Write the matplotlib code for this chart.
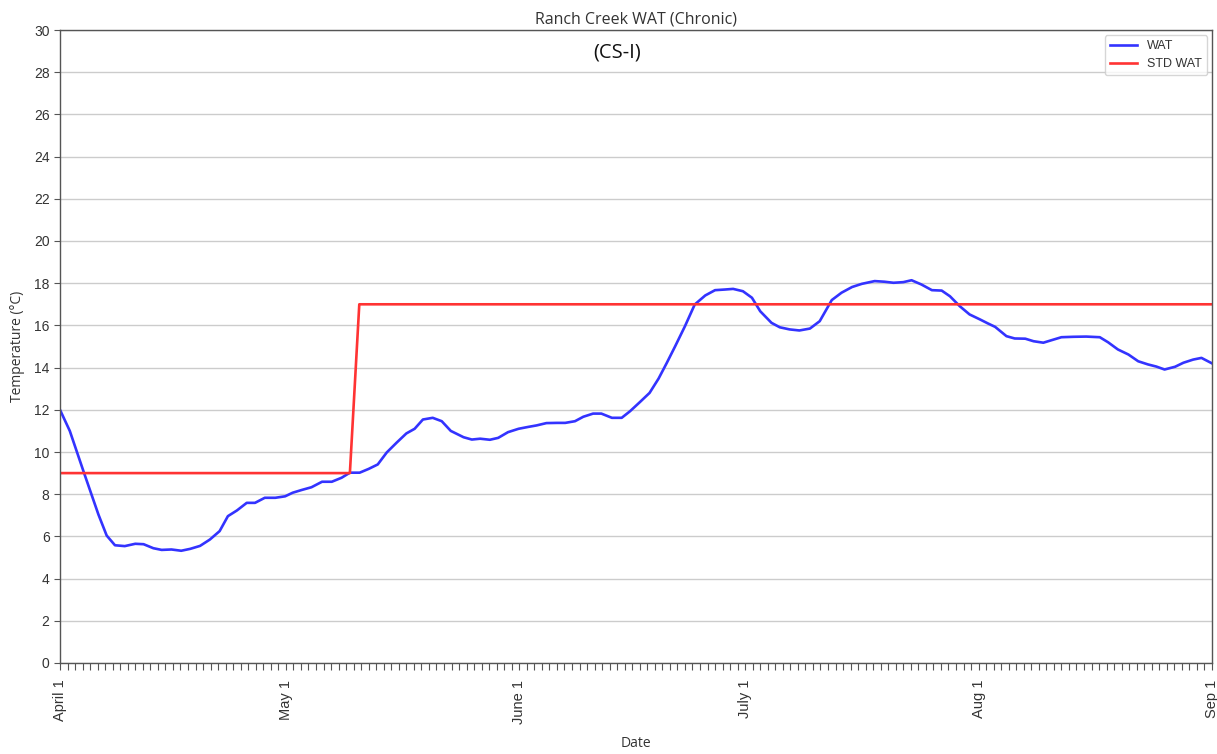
import matplotlib
matplotlib.use("Agg")
import matplotlib.pyplot as plt
import matplotlib.dates as mdates
import numpy as np
import datetime as dt

# ---- data ----
start_date = dt.datetime(2021, 4, 1)
end_date = dt.datetime(2021, 9, 1)

wat_day = [0, 1.3, 3.2, 5.1, 6.2, 7.3, 8.6, 10, 11.1, 12.4, 13.5, 14.8, 16.1, 17.3,
           18.6, 19.9, 21.2, 22.3, 23.5, 24.8, 25.9, 27.2, 28.6, 29.9, 30.9, 32.1,
           33.4, 34.8, 36.1, 37.4, 38.5, 39.8, 41.0, 42.2, 43.4, 44.7, 46.0, 47.1,
           48.2, 49.5, 50.7, 51.9, 53.6, 54.7, 55.8, 57.1, 58.2, 59.5, 60.9, 62.2,
           63.3, 64.6, 66.0, 67.1, 68.4, 69.5, 70.8, 71.9, 73.3, 74.6, 75.7, 77.0,
           78.3, 79.5, 80.6, 81.7, 83.0, 84.3, 85.7, 87.0, 88.3, 89.4, 90.7, 91.9,
           93.0, 94.5, 95.6, 96.9, 98.2, 99.6, 100.9, 102.5, 103.8, 105.2, 106.5,
           108.2, 109.5, 110.7, 112.0, 113.1, 114.4, 115.8, 117.1, 118.2, 119.5,
           120.8, 122.2, 123.2, 124.2, 125.7, 126.8, 128.2, 129.3, 130.6, 131.7,
           133.0, 134.6, 136.3, 138.1, 139.2, 140.5, 141.9, 143.2, 144.5, 145.6,
           146.7, 148.1, 149.2, 150.5, 151.6, 153.0]
wat_val = [12.0, 11.0, 9.0, 7.04, 6.04, 5.58, 5.54, 5.65, 5.63, 5.44, 5.36, 5.38, 5.32, 5.41,
           5.55, 5.85, 6.25, 6.96, 7.23, 7.59, 7.59, 7.83, 7.83, 7.9, 8.07, 8.2,
           8.33, 8.59, 8.59, 8.78, 9.02, 9.02, 9.2, 9.41, 9.98, 10.44, 10.88, 11.1,
           11.54, 11.62, 11.46, 11.0, 10.7, 10.59, 10.63, 10.58, 10.67, 10.94, 11.1, 11.19,
           11.26, 11.37, 11.38, 11.38, 11.46, 11.67, 11.82, 11.82, 11.62, 11.62, 11.93, 12.36,
           12.8, 13.48, 14.23, 15.01, 15.96, 16.99, 17.42, 17.67, 17.7, 17.73, 17.62, 17.31,
           16.67, 16.12, 15.91, 15.81, 15.76, 15.85, 16.2, 17.2, 17.55, 17.82, 17.97,
           18.1, 18.07, 18.02, 18.05, 18.14, 17.94, 17.67, 17.65, 17.38, 16.91,
           16.52, 16.28, 16.1, 15.93, 15.49, 15.38, 15.37, 15.25, 15.18, 15.3,
           15.44, 15.46, 15.47, 15.44, 15.2, 14.86, 14.62, 14.3, 14.15, 14.05,
           13.91, 14.04, 14.23, 14.38, 14.46, 14.2]

std_day = [0, 38.5, 39.75, 153]
std_val = [9, 9, 17, 17]

month_ticks = ["2021-04-01", "2021-05-01", "2021-06-01", "2021-07-01", "2021-08-01", "2021-09-01"]
month_labels = ["April 1", "May 1", "June 1", "July 1", "Aug 1", "Sep 1"]

title = "Ranch Creek WAT (Chronic)"
subtitle = "(CS-I)"

# ---- plot ----
wat_x = [start_date + dt.timedelta(days=d) for d in wat_day]
std_x = [start_date + dt.timedelta(days=d) for d in std_day]

fig = plt.figure(figsize=(12.17, 7.54), dpi=100)
ax = fig.add_axes([60 / 1217, 1 - 663 / 754, (1212 - 60) / 1217, (663 - 30) / 754])

ax.plot(wat_x, wat_val, color="#3333ff", lw=1.9, label="WAT")
ax.plot(std_x, std_val, color="#ff3333", lw=1.9, label="STD WAT")

ax.set_xlim(start_date, end_date)
ax.set_ylim(0, 30)
ax.set_yticks(np.arange(0, 31, 2))
ax.yaxis.grid(True, color="#cccccc", lw=1.0)
ax.set_axisbelow(True)

ax.set_xticks([dt.datetime.strptime(m, "%Y-%m-%d") for m in month_ticks])
ax.set_xticklabels(month_labels, rotation=90, family="Liberation Sans", fontsize=10.5,
                   color="#333333")
ax.xaxis.set_minor_locator(mdates.DayLocator())
ax.tick_params(axis="x", which="both", length=5, width=0.8, color="#555555", pad=7)
ax.tick_params(axis="y", length=4, width=0.8, color="#555555")
for lab in ax.get_yticklabels():
    lab.set_family("Liberation Sans")
    lab.set_fontsize(10)
    lab.set_color("#333333")

for sp in ax.spines.values():
    sp.set_color("#555555")
    sp.set_linewidth(1.0)

ax.set_ylabel("Temperature (°C)", family="Open Sans", fontsize=10, color="#333333", labelpad=6)
ax.xaxis.set_label_coords(0.49, -0.115)
ax.set_xlabel("Date", family="Open Sans", fontsize=10, color="#333333")
ax.set_title(title, family="Open Sans", fontsize=11.5, color="#333333", pad=5)
ax.text(0.484, 0.98, subtitle, transform=ax.transAxes, ha="center", va="top",
        family="Open Sans", fontsize=14.5, color="#111111")

leg = ax.legend(loc="upper right", prop={"family": "Liberation Sans", "size": 9},
                frameon=True, fancybox=True, borderaxespad=0.4, handlelength=2.2)
leg.get_frame().set_edgecolor("#cccccc")
for t in leg.get_texts():
    t.set_color("#333333")

fig.savefig("out.png", dpi=100)
